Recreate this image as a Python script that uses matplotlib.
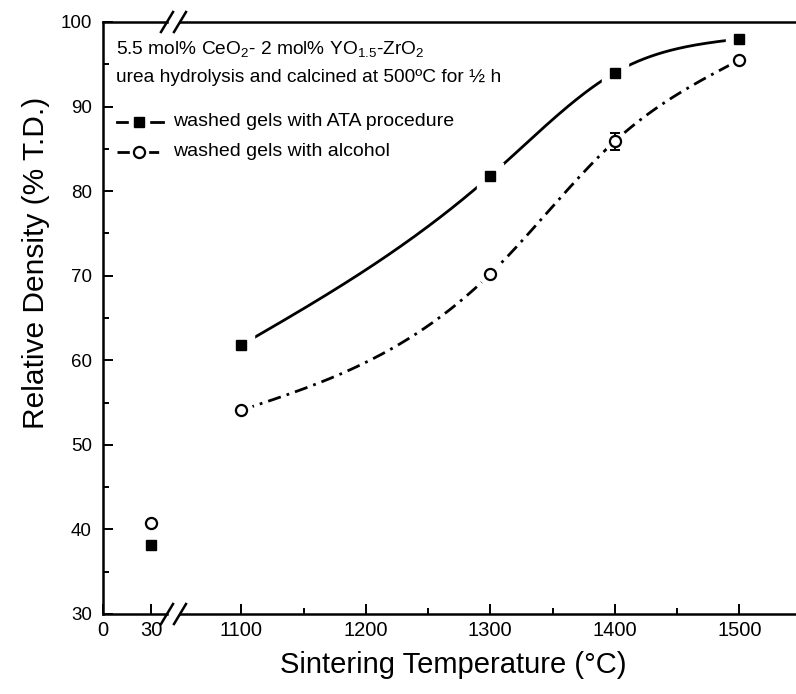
import numpy as np
import matplotlib
matplotlib.use('Agg')
import matplotlib.pyplot as plt
from matplotlib.lines import Line2D

plt.rcParams['font.family'] = ['Liberation Sans', 'DejaVu Sans']
plt.rcParams['mathtext.fontset'] = 'custom'
plt.rcParams['mathtext.rm'] = 'Liberation Sans'
plt.rcParams['mathtext.it'] = 'Liberation Sans:italic'

# data
temps = [30, 1100, 1300, 1400, 1500]
ata = [38.2, 61.8, 81.8, 94.0, 98.0]
alcohol = [40.8, 54.1, 70.2, 85.9, 95.5]
alcohol_err = [0, 0, 0, 1.0, 0]

yticks = [30, 40, 50, 60, 70, 80, 90, 100]
left_ticks = [0, 30]
right_ticks = [1100, 1200, 1300, 1400, 1500]
labels = ['washed gels with ATA procedure', 'washed gels with alcohol']

DASHDOT = (4.8, 2.2, 1.0, 2.2)


def natural_spline(x, y, n=300):
    # smooth connecting line like Origin's spline
    x = np.asarray(x, float)
    y = np.asarray(y, float)
    k = len(x)
    h = np.diff(x)
    A = np.zeros((k, k))
    b = np.zeros(k)
    A[0, 0] = A[-1, -1] = 1
    for i in range(1, k - 1):
        A[i, i - 1] = h[i - 1]
        A[i, i] = 2 * (h[i - 1] + h[i])
        A[i, i + 1] = h[i]
        b[i] = 6 * ((y[i + 1] - y[i]) / h[i] - (y[i] - y[i - 1]) / h[i - 1])
    M = np.linalg.solve(A, b)
    xs = np.linspace(x[0], x[-1], n)
    idx = np.clip(np.searchsorted(x, xs) - 1, 0, k - 2)
    x0, x1 = x[idx], x[idx + 1]
    hh = x1 - x0
    t0 = x1 - xs
    t1 = xs - x0
    ys = (M[idx] * t0**3 / (6 * hh) + M[idx + 1] * t1**3 / (6 * hh)
          + (y[idx] / hh - M[idx] * hh / 6) * t0
          + (y[idx + 1] / hh - M[idx + 1] * hh / 6) * t1)
    return xs, ys


W, H = 796, 694
fig = plt.figure(figsize=(W / 100, H / 100), dpi=100)


def fx(px):
    return px / W


def fy(py):
    return (H - py) / H


bottom = fy(614)
height = 592 / H
ax1 = fig.add_axes([fx(103), bottom, (167 - 103) / W, height])
ax2 = fig.add_axes([fx(180), bottom, (796 - 180) / W, height], sharey=ax1)

ax1.set_xlim(0, (167 - 103) / 1.6)
ax2.set_xlim(1100 - (241.3 - 180) / 1.245, 1100 + (796 - 241.3) / 1.245)
ax1.set_ylim(30, 100)

for ax in (ax1, ax2):
    for s in ax.spines.values():
        s.set_linewidth(1.8)
    ax.tick_params(direction='in', which='major', length=7, width=1.4)
    ax.tick_params(direction='in', which='minor', length=4, width=1.4)
    ax.tick_params(axis='x', pad=5, labelsize=14.5)

ax1.spines['right'].set_visible(False)
ax2.spines['left'].set_visible(False)
ax2.spines['right'].set_visible(False)
ax2.tick_params(axis='y', which='both', left=False, labelleft=False)
ax1.set_yticks(yticks)
ax1.set_yticks(np.arange(35, 100, 10), minor=True)
ax1.tick_params(axis='y', pad=8, labelsize=13.5)
ax1.set_xticks(left_ticks)
ax2.set_xticks(right_ticks)
ax2.set_xticks([1150, 1250, 1350, 1450], minor=True)

# points at 30 C
ax1.plot(temps[0], ata[0], 's', color='black', ms=7.5, clip_on=False)
ax1.plot(temps[0], alcohol[0], 'o', mfc='white', mec='black', mew=1.6,
         ms=8, clip_on=False)

# smooth curves for the sintered samples
sx, sy = natural_spline(temps[1:], ata[1:])
ax2.plot(sx, sy, '-', color='black', lw=2, zorder=2)
cx, cy = natural_spline(temps[1:], alcohol[1:])
ax2.plot(cx, cy, color='black', lw=2, dashes=DASHDOT, zorder=2)

# white halos so the lines stop short of the markers
ax2.plot(temps[1:], ata[1:], 's', color='white', ms=19, zorder=3)
ax2.plot(temps[1:], alcohol[1:], 'o', color='white', ms=16, zorder=3)

err_t = [t for t, e in zip(temps, alcohol_err) if e > 0]
err_v = [v for v, e in zip(alcohol, alcohol_err) if e > 0]
err_e = [e for e in alcohol_err if e > 0]
ax2.errorbar(err_t, err_v, yerr=err_e, fmt='none', ecolor='black',
             elinewidth=1.4, capsize=3.5, capthick=1.4, zorder=4)
ax2.plot(temps[1:], ata[1:], 's', color='black', ms=7.5, zorder=5)
ax2.plot(temps[1:], alcohol[1:], 'o', mfc='white', mec='black', mew=1.6,
         ms=8, zorder=5)

# axis break marks
for xb in (167, 180):
    for yb in (614, 22):
        fig.add_artist(Line2D([fx(xb - 6), fx(xb + 6)],
                              [fy(yb + 10), fy(yb - 10)],
                              color='black', lw=1.8))

# axis titles
fig.text(fx(453), fy(665), 'Sintering Temperature (°C)',
         ha='center', va='center', fontsize=21)
fig.text(fx(36), fy(263), 'Relative Density (% T.D.)',
         ha='center', va='center', rotation=90, fontsize=21.5)

# notes
fig.text(fx(116), fy(54), r'5.5 mol% CeO$_2$- 2 mol% YO$_{1.5}$-ZrO$_2$',
         ha='left', va='baseline', fontsize=13.8)
fig.text(fx(116), fy(81.5), 'urea hydrolysis and calcined at 500ºC for ½ h',
         ha='left', va='baseline', fontsize=13.8)

# hand-drawn legend
for row, (yr, lbl) in enumerate(zip([121.5, 152.3], labels)):
    if row == 0:
        fig.add_artist(Line2D([fx(117), fx(163)], [fy(yr), fy(yr)],
                              color='black', lw=2))
        fig.add_artist(Line2D([fx(139)], [fy(yr)], marker='s', ms=15,
                              color='white', lw=0))
        fig.add_artist(Line2D([fx(139)], [fy(yr)], marker='s', ms=7.5,
                              color='black', lw=0))
    else:
        fig.add_artist(Line2D([fx(117), fx(163)], [fy(yr), fy(yr)],
                              color='black', lw=2, dashes=DASHDOT))
        fig.add_artist(Line2D([fx(139)], [fy(yr)], marker='o', ms=13,
                              color='white', lw=0))
        fig.add_artist(Line2D([fx(139)], [fy(yr)], marker='o', ms=8,
                              mfc='white', mec='black', mew=1.6, lw=0))
    fig.text(fx(173), fy(yr + 4), lbl, ha='left', va='baseline',
             fontsize=14)

fig.savefig('out.png', dpi=100)
